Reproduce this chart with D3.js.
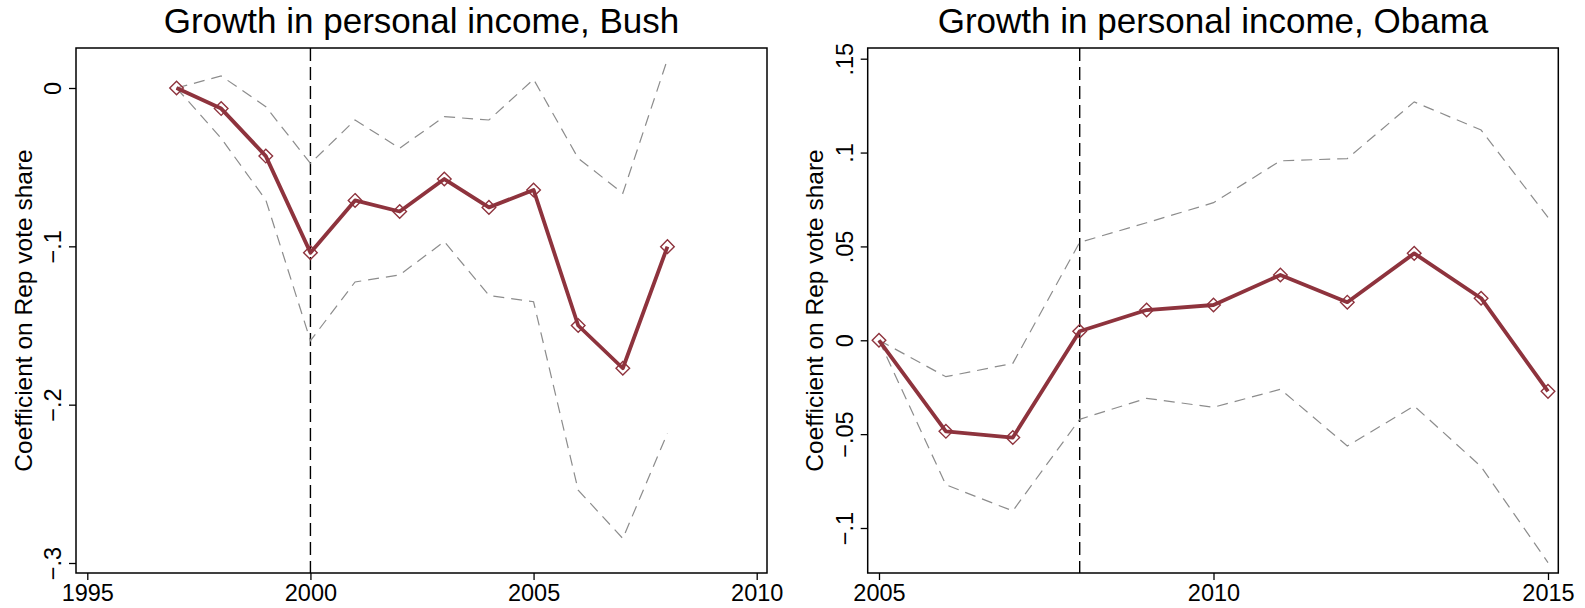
<!DOCTYPE html>
<html>
<head>
<meta charset="utf-8">
<script src="https://cdn.jsdelivr.net/npm/d3@7"></script>
<style>
  html, body { margin: 0; padding: 0; background: #fff; }
  svg { display: block; font-family: "Liberation Sans", Arial, Helvetica, sans-serif; }
</style>
</head>
<body>
<svg id="chart" width="1585" height="608"></svg>
<script>
// ---- Bush panel data ----
const bushYears = [1997, 1998, 1999, 2000, 2001, 2002, 2003, 2004, 2005, 2006, 2007, 2008];
const bushCoef  = [0, -0.013, -0.043, -0.104, -0.071, -0.078, -0.0575, -0.0754, -0.0644, -0.150, -0.177, -0.1002];
const bushUpper = [0, 0.0076, -0.0118, -0.0476, -0.0202, -0.038, -0.0181, -0.0202, 0.0055, -0.0444, -0.0665, 0.0181];
const bushLower = [0, -0.0318, -0.0707, -0.1596, -0.1225, -0.118, -0.097, -0.131, -0.135, -0.254, -0.2845, -0.218];
const bushXTicks = [1995, 2000, 2005, 2010];
const bushYTicks = [0, -0.1, -0.2, -0.3];
const bushYTickLabels = ["0", "\u2212.1", "\u2212.2", "\u2212.3"];
const bushMark = 2000;

// ---- Obama panel data ----
const obamaYears = [2005, 2006, 2007, 2008, 2009, 2010, 2011, 2012, 2013, 2014, 2015];
const obamaCoef  = [0, -0.0485, -0.0518, 0.0048, 0.0161, 0.0188, 0.0348, 0.0203, 0.0463, 0.0224, -0.0272];
const obamaUpper = [0, -0.0194, -0.0123, 0.0522, 0.0626, 0.0733, 0.0956, 0.0968, 0.127, 0.112, 0.0655];
const obamaLower = [0, -0.077, -0.0909, -0.0421, -0.0309, -0.0357, -0.0261, -0.0563, -0.035, -0.0673, -0.1184];
const obamaXTicks = [2005, 2010, 2015];
const obamaYTicks = [0.15, 0.1, 0.05, 0, -0.05, -0.1];
const obamaYTickLabels = [".15", ".1", ".05", "0", "\u2212.05", "\u2212.1"];
const obamaMark = 2008;

const titles = ["Growth in personal income, Bush", "Growth in personal income, Obama"];
const yTitle = "Coefficient on Rep vote share";

const svg = d3.select("#chart");
const lineColor = "#8e333d";
const ciColor = "#8c8c8c";
const fontStack = "'Liberation Sans', Arial, Helvetica, sans-serif";

function panel(cfg) {
  const g = svg.append("g");
  const x = d3.scaleLinear().domain(cfg.xDomain).range(cfg.xRange);
  const y = d3.scaleLinear().domain(cfg.yDomain).range(cfg.yRange);
  const f = cfg.frame; // {x0,x1,y0,y1}

  // title
  g.append("text")
    .attr("x", (f.x0 + f.x1) / 2).attr("y", 33)
    .attr("text-anchor", "middle")
    .style("font-family", fontStack)
    .style("font-size", "35px").attr("fill", "#000")
    .text(cfg.title);

  // y-axis title
  g.append("text")
    .attr("transform", `translate(${cfg.yTitleX},${(f.y0 + f.y1) / 2}) rotate(-90)`)
    .attr("text-anchor", "middle")
    .style("font-family", fontStack)
    .style("font-size", "24.5px").attr("fill", "#000")
    .text(yTitle);

  // axes via d3
  const yAxis = d3.axisLeft(y)
    .tickValues(cfg.yTicks)
    .tickSize(7)
    .tickFormat((d, i) => cfg.yTickLabels[i]);
  const yg = g.append("g").attr("transform", `translate(${f.x0},0)`).call(yAxis);
  yg.select(".domain").remove();
  yg.selectAll(".tick line").attr("stroke", "#000").attr("stroke-width", 1.3);
  yg.selectAll(".tick text")
    .style("font-family", fontStack)
    .style("font-size", "23.5px").attr("fill", "#000")
    .attr("x", null).attr("dy", null)
    .attr("text-anchor", "middle")
    .attr("transform", "translate(-15,0) rotate(-90)");

  const xAxis = d3.axisBottom(x)
    .tickValues(cfg.xTicks)
    .tickSize(7)
    .tickFormat(d3.format("d"));
  const xg = g.append("g").attr("transform", `translate(0,${f.y1})`).call(xAxis);
  xg.select(".domain").remove();
  xg.selectAll(".tick line").attr("stroke", "#000").attr("stroke-width", 1.3);
  xg.selectAll(".tick text")
    .style("font-family", fontStack)
    .style("font-size", "23.5px").attr("fill", "#000")
    .attr("y", 28).attr("dy", null);

  // reference line
  g.append("line")
    .attr("x1", x(cfg.mark)).attr("x2", x(cfg.mark))
    .attr("y1", f.y0).attr("y2", f.y1)
    .attr("stroke", "#000").attr("stroke-width", 1.4)
    .attr("stroke-dasharray", "13,6");

  const line = d3.line().x(d => x(d[0])).y(d => y(d[1]));
  const zip = (a, b) => a.map((v, i) => [v, b[i]]);

  // confidence bounds
  [cfg.upper, cfg.lower].forEach(arr => {
    g.append("path")
      .attr("d", line(zip(cfg.years, arr)))
      .attr("fill", "none")
      .attr("stroke", ciColor).attr("stroke-width", 1.2)
      .attr("stroke-dasharray", "11,7");
  });

  // point estimates
  const pts = zip(cfg.years, cfg.coef);
  g.append("path")
    .attr("d", line(pts))
    .attr("fill", "none")
    .attr("stroke", lineColor).attr("stroke-width", 3.8)
    .attr("stroke-linejoin", "round");

  const r = 6.8;
  g.selectAll("path.mk").data(pts).enter().append("path")
    .attr("class", "mk")
    .attr("d", d => {
      const cx = x(d[0]), cy = y(d[1]);
      return `M${cx},${cy - r}L${cx + r},${cy}L${cx},${cy + r}L${cx - r},${cy}Z`;
    })
    .attr("fill", "none")
    .attr("stroke", lineColor).attr("stroke-width", 1.4);

  // frame
  g.append("rect")
    .attr("x", f.x0).attr("y", f.y0)
    .attr("width", f.x1 - f.x0).attr("height", f.y1 - f.y0)
    .attr("fill", "none").attr("stroke", "#000").attr("stroke-width", 1.5);
}

panel({
  title: titles[0],
  years: bushYears, coef: bushCoef, upper: bushUpper, lower: bushLower,
  xDomain: [1995, 2010], xRange: [87.3, 756.7],
  yDomain: [-0.3, 0], yRange: [563, 88],
  xTicks: bushXTicks, yTicks: bushYTicks, yTickLabels: bushYTickLabels,
  mark: bushMark,
  frame: { x0: 76, x1: 767, y0: 48, y1: 573 },
  yTitleX: 32
});

panel({
  title: titles[1],
  years: obamaYears, coef: obamaCoef, upper: obamaUpper, lower: obamaLower,
  xDomain: [2005, 2015], xRange: [879, 1548],
  yDomain: [-0.1, 0.15], yRange: [528, 58.7],
  xTicks: obamaXTicks, yTicks: obamaYTicks, yTickLabels: obamaYTickLabels,
  mark: obamaMark,
  frame: { x0: 867.7, x1: 1558.3, y0: 48, y1: 573 },
  yTitleX: 823
});
</script>
</body>
</html>
